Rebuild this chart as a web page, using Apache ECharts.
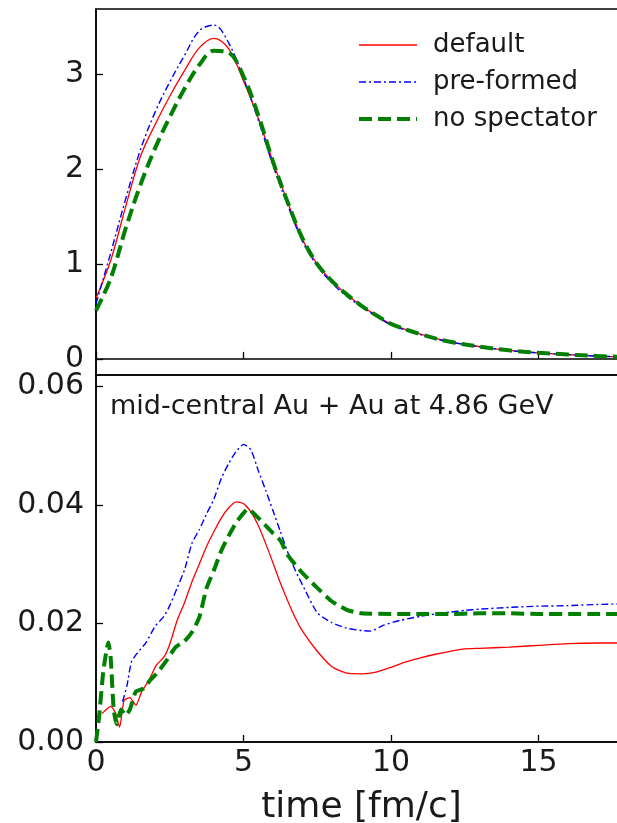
<!DOCTYPE html>
<html>
<head>
<meta charset="utf-8">
<script src="https://cdn.jsdelivr.net/npm/echarts@6/dist/echarts.min.js"></script>
<style>
  html, body { margin: 0; padding: 0; background: #fff; }
  #chart { width: 617px; height: 823px; }
</style>
</head>
<body>
<div id="chart"></div>
<script>
// Upper panel: all three scenarios sampled on a common time grid [fm/c]
const timeUpper = [0, 0.5, 1, 1.5, 2, 2.5, 3, 3.5, 4, 4.5, 5, 5.5, 6, 6.5, 7, 7.5, 8, 8.5, 9, 9.5, 10, 11, 12, 13, 14, 15, 16, 17, 18];
const defaultUpper   = [0.64, 1.04, 1.6, 2.13, 2.47, 2.77, 3.04, 3.28, 3.38, 3.27, 2.93, 2.54, 2.08, 1.65, 1.26, 1.0, 0.82, 0.68, 0.56, 0.46, 0.37, 0.26, 0.18, 0.13, 0.09, 0.064, 0.046, 0.03, 0.02];
const preformedUpper = [0.58, 1.12, 1.68, 2.2, 2.6, 2.92, 3.2, 3.46, 3.52, 3.33, 2.96, 2.52, 2.04, 1.62, 1.24, 0.98, 0.8, 0.66, 0.55, 0.45, 0.36, 0.255, 0.178, 0.128, 0.088, 0.063, 0.045, 0.029, 0.019];
const noSpecUpper    = [0.51, 0.85, 1.37, 1.83, 2.22, 2.55, 2.85, 3.1, 3.25, 3.23, 2.98, 2.57, 2.08, 1.65, 1.27, 1.0, 0.82, 0.68, 0.56, 0.46, 0.37, 0.26, 0.18, 0.13, 0.09, 0.064, 0.046, 0.03, 0.02];

// Lower panel: each scenario has its own time samples
const timeDefaultLower = [0.2, 0.35, 0.5, 0.65, 0.8, 0.95, 1.15, 1.35, 1.55, 1.8, 2.05, 2.3, 2.5, 2.75, 3.0, 3.25, 3.5, 3.75, 4.0, 4.25, 4.5, 4.75, 5.0, 5.25, 5.5, 5.75, 6.0, 6.25, 6.5, 6.75, 7.0, 7.5, 8.0, 8.5, 9.0, 9.5, 10, 10.5, 11, 11.5, 12, 12.5, 13, 14, 15, 16, 17, 18];
const defaultLower = [0.0048, 0.0055, 0.006, 0.005, 0.0025, 0.007, 0.0075, 0.0062, 0.0085, 0.0105, 0.013, 0.0143, 0.0165, 0.0205, 0.0235, 0.027, 0.030, 0.033, 0.0355, 0.0378, 0.0395, 0.0405, 0.0402, 0.0388, 0.0365, 0.0335, 0.0302, 0.0268, 0.0238, 0.021, 0.0187, 0.0153, 0.0127, 0.0116, 0.0115, 0.0118, 0.0126, 0.0135, 0.0142, 0.0148, 0.0153, 0.0157, 0.0158, 0.016, 0.0163, 0.0166, 0.0167, 0.0167];

const timePreformedLower = [0.9, 1.05, 1.2, 1.4, 1.7, 2.0, 2.3, 2.5, 2.75, 3.0, 3.25, 3.5, 3.75, 4.0, 4.25, 4.5, 4.75, 5.0, 5.25, 5.5, 5.75, 6.0, 6.25, 6.5, 6.75, 7.0, 7.5, 8.0, 8.5, 9.0, 9.3, 9.75, 10.3, 11, 11.5, 12, 12.5, 13, 14, 15, 16, 17, 18];
const preformedLower = [0.0068, 0.0095, 0.0135, 0.015, 0.0168, 0.0195, 0.0212, 0.023, 0.026, 0.029, 0.0335, 0.0358, 0.0385, 0.041, 0.0445, 0.047, 0.049, 0.0502, 0.0493, 0.0458, 0.0425, 0.039, 0.0355, 0.032, 0.029, 0.0265, 0.0218, 0.0201, 0.0192, 0.0188, 0.0187, 0.0197, 0.0205, 0.0212, 0.0216, 0.0219, 0.0222, 0.0224, 0.0227, 0.0229, 0.023, 0.0232, 0.0233];

const timeNoSpecLower = [0, 0.1, 0.25, 0.42, 0.5, 0.6, 0.7, 0.85, 1.0, 1.15, 1.35, 1.6, 1.85, 2.1, 2.4, 2.7, 3.0, 3.25, 3.5, 3.75, 4.0, 4.25, 4.5, 4.75, 5.0, 5.15, 5.5, 6.0, 6.25, 6.5, 7.0, 7.5, 8.0, 8.5, 9.0, 10, 11, 12, 13, 14, 15, 16, 17, 18];
const noSpecLower = [0, 0.004, 0.012, 0.0168, 0.014, 0.0055, 0.003, 0.0055, 0.0045, 0.0055, 0.0085, 0.009, 0.0105, 0.0118, 0.0138, 0.016, 0.017, 0.0185, 0.021, 0.026, 0.029, 0.0323, 0.0348, 0.037, 0.0386, 0.0393, 0.0378, 0.0352, 0.034, 0.0315, 0.0285, 0.026, 0.0237, 0.0223, 0.0217, 0.0216, 0.0216, 0.0216, 0.0217, 0.0217, 0.0216, 0.0216, 0.0216, 0.0216];

// Tick labels
const timeTicks = [0, 5, 10, 15];
const upperYTicks = [0, 1, 2, 3];
const lowerYTicks = [0, 0.02, 0.04, 0.06];
const seriesNames = ['default', 'pre-formed', 'no spectator'];
const annotation = 'mid-central Au + Au at 4.86 GeV';
const xTitle = 'time [fm/c]';

const FONT = 'DejaVu Sans';
const INK = '#1a1a1a';
const pairs = (xs, ys) => xs.map((x, i) => [x, ys[i]]);

const styles = {
  'default':      { color: '#ff0000', width: 1.3, type: 'solid' },
  'pre-formed':   { color: '#0000ff', width: 1.4, type: [7, 3, 2, 3] },
  'no spectator': { color: '#008000', width: 4,   type: [13, 6] }
};

const spine = { show: true, lineStyle: { color: '#000', width: 1.5 } };
const tick = { show: true, inside: true, length: 7, lineStyle: { color: '#000', width: 1.3 } };
const withValues = (base, values) => Object.assign({}, base, { customValues: values });

function line(name, data, panel, smooth) {
  const s = styles[name];
  return {
    name, type: 'line', data,
    xAxisIndex: panel, yAxisIndex: panel,
    showSymbol: false, symbol: 'none', smooth,
    lineStyle: { color: s.color, width: s.width, type: s.type, cap: 'butt' },
    itemStyle: { color: s.color },
    z: 3
  };
}

// Legend entries carry the same stroke as their curves
const legendItems = seriesNames.map(name => ({
  name,
  lineStyle: { color: styles[name].color, width: styles[name].width, type: styles[name].type }
}));

const chart = echarts.init(document.getElementById('chart'), null, { renderer: 'canvas' });
chart.setOption({
  animation: false,
  backgroundColor: '#fff',
  textStyle: { fontFamily: FONT },
  grid: [
    { left: 96, top: 9, width: 531, height: 366, outerBoundsMode: 'none', containLabel: false,
      show: true, borderColor: '#000', borderWidth: 1.5, backgroundColor: 'transparent' },
    { left: 96, top: 375, width: 531, height: 367, outerBoundsMode: 'none', containLabel: false,
      show: true, borderColor: '#000', borderWidth: 1.5, backgroundColor: 'transparent' }
  ],
  xAxis: [
    { type: 'value', gridIndex: 0, min: 0, max: 18,
      axisLine: spine, axisTick: withValues(tick, timeTicks),
      axisLabel: { show: false }, splitLine: { show: false } },
    { type: 'value', gridIndex: 1, min: 0, max: 18,
      axisLine: spine, axisTick: withValues(tick, timeTicks), splitLine: { show: false },
      axisLabel: { customValues: timeTicks, fontSize: 30, color: INK, fontFamily: FONT, margin: 6 },
      name: xTitle, nameLocation: 'middle', nameGap: 48,
      nameTextStyle: { fontSize: 36, color: INK, fontFamily: FONT } }
  ],
  yAxis: [
    { type: 'value', gridIndex: 0, min: -0.17, max: 3.69,
      axisLine: spine, splitLine: { show: false },
      axisTick: withValues(tick, upperYTicks),
      axisLabel: { customValues: upperYTicks, fontSize: 30, color: INK, fontFamily: FONT, margin: 12 } },
    { type: 'value', gridIndex: 1, min: 0, max: 0.0619,
      axisLine: spine, splitLine: { show: false },
      axisTick: withValues(tick, lowerYTicks),
      axisLabel: { customValues: lowerYTicks, fontSize: 30, color: INK, fontFamily: FONT, margin: 12,
                   formatter: v => v.toFixed(2) } }
  ],
  legend: {
    data: legendItems,
    orient: 'vertical', left: 352, top: 27,
    itemWidth: 58, itemHeight: 12, itemGap: 11,
    itemStyle: { opacity: 0 },
    textStyle: { fontSize: 26, color: INK, fontFamily: FONT, padding: [0, 0, 0, 11] },
    selectedMode: false
  },
  graphic: [
    { type: 'text', left: 110, top: 393, z: 10,
      style: { text: annotation, fontSize: 27, fill: INK, fontFamily: FONT } }
  ],
  series: [
    line('default', pairs(timeUpper, defaultUpper), 0, 0.35),
    line('pre-formed', pairs(timeUpper, preformedUpper), 0, 0.35),
    line('no spectator', pairs(timeUpper, noSpecUpper), 0, 0.35),
    line('default', pairs(timeDefaultLower, defaultLower), 1, 0.2),
    line('pre-formed', pairs(timePreformedLower, preformedLower), 1, 0.2),
    line('no spectator', pairs(timeNoSpecLower, noSpecLower), 1, 0.2)
  ]
});
</script>
</body>
</html>
